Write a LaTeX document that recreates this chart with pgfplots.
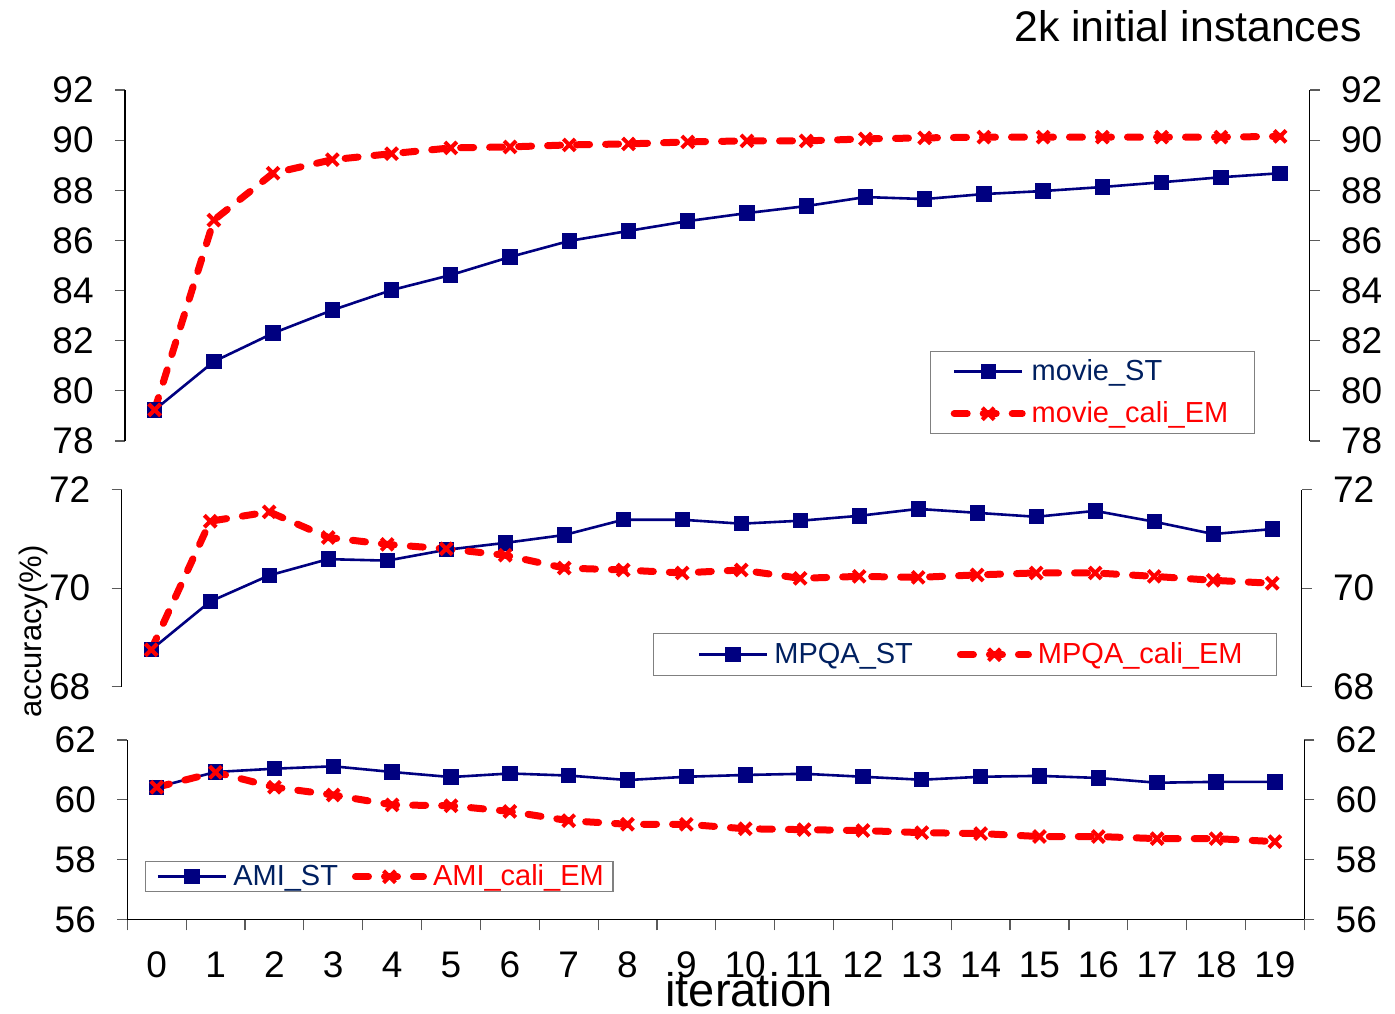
\documentclass[border=0pt]{standalone}
\usepackage{pgfplots}
\pgfplotsset{compat=1.18}
\usepackage{fontspec}
\setmainfont{Liberation Sans}
\definecolor{stblue}{RGB}{0,0,128}
\definecolor{sttext}{RGB}{0,32,96}
\definecolor{emred}{RGB}{255,0,0}
\definecolor{tickgray}{RGB}{90,90,90}

\pgfplotsset{
  panel/.style={
    scale only axis,
    anchor=south west,
    xmin=-0.5, xmax=19.5,
    tick align=outside,
    major tick length=5pt,
    minor tick length=5.5pt,
    every tick/.style={tickgray, line width=0.6pt},
    axis line style={black, line width=0.75pt},
    /pgf/number format/assume math mode=true,
    yticklabel style={font=\fontsize{18.5}{20}\selectfont, inner xsep=10.5pt},
    clip=false,
    legend cell align=left,
    legend style={draw=gray, line width=0.7pt, fill=white,
      font=\fontsize{14.5}{16}\selectfont,
      nodes={inner xsep=3pt, inner ysep=1pt}},
    legimg/.style={legend image code/.code={
      \path (-##1,0pt);
      \draw[mark repeat=2,mark phase=2,####1] plot coordinates {(0pt,0pt) (17pt,0pt) (34pt,0pt)};
    }},
    legimg=0pt,
  },
  leftpanel/.style={panel, hide x axis, axis y line*=left},
  rightpanel/.style={panel, hide x axis, axis y line*=right, yticklabel pos=right},
  bottompanel/.style={panel, axis y line*=left, axis x line*=bottom},
  stline/.style={stblue, line width=1.3pt, mark=square*, mark size=3.6pt,
    mark options={solid, fill=stblue, draw=stblue, line width=0.5pt}},
  emline/.style={emred, line width=3.5pt, dash pattern=on 6.5pt off 8pt, line cap=round,
    mark=x, mark size=4.2pt, mark options={solid, line width=2pt, line cap=butt}},
}

\begin{document}
\begin{tikzpicture}
\path[use as bounding box] (0,0) rectangle (697.5pt,506.5pt);

% ---------------- Panel 1: movie ----------------
\begin{axis}[leftpanel, at={(62.5pt,286pt)}, width=592.35pt, height=175.5pt,
  ymin=78, ymax=92, ytick={78,80,...,92},
  legend style={at={(0.6795,0.2564)}, anchor=north west, inner xsep=10pt, inner ysep=3pt,
    /tikz/row sep=7pt}]
\addplot[stline] coordinates {
(0,79.24) (1,81.17) (2,82.30) (3,83.22) (4,84.02) (5,84.62) (6,85.34) (7,85.98) (8,86.38) (9,86.77)
(10,87.09) (11,87.37) (12,87.73) (13,87.65) (14,87.85) (15,87.97) (16,88.13) (17,88.32) (18,88.52) (19,88.68)};
\addlegendentry{\textcolor{sttext}{movie\_ST}}
\addplot[emline] coordinates {
(0,79.24) (1,86.81) (2,88.68) (3,89.22) (4,89.46) (5,89.69) (6,89.73) (7,89.81) (8,89.85) (9,89.93)
(10,89.97) (11,89.97) (12,90.05) (13,90.09) (14,90.12) (15,90.12) (16,90.12) (17,90.12) (18,90.12) (19,90.15)};
\addlegendentry{\textcolor{emred}{movie\_cali\_EM}}
\end{axis}
\begin{axis}[rightpanel, at={(62.5pt,286pt)}, width=592.35pt, height=175.5pt,
  ymin=78, ymax=92, ytick={78,80,...,92}]
\end{axis}

% ---------------- Panel 2: MPQA ----------------
\begin{axis}[leftpanel, at={(60.85pt,163.15pt)}, width=590pt, height=98.5pt,
  ymin=68, ymax=72, ytick={68,70,72},
  legimg=8pt,
  legend columns=2,
  legend style={at={(0.4503,0.2726)}, anchor=north west, inner xsep=14pt, inner ysep=3.5pt,
    /tikz/every even column/.append style={column sep=11pt}}]
\addplot[stline] coordinates {
(0,68.75) (1,69.73) (2,70.26) (3,70.59) (4,70.56) (5,70.78) (6,70.92) (7,71.08) (8,71.39) (9,71.39)
(10,71.31) (11,71.37) (12,71.47) (13,71.61) (14,71.53) (15,71.45) (16,71.57) (17,71.35) (18,71.10) (19,71.20)};
\addlegendentry{\textcolor{sttext}{MPQA\_ST}}
\addplot[emline] coordinates {
(0,68.75) (1,71.36) (2,71.55) (3,71.03) (4,70.89) (5,70.80) (6,70.67) (7,70.41) (8,70.37) (9,70.31)
(10,70.37) (11,70.20) (12,70.24) (13,70.22) (14,70.27) (15,70.31) (16,70.31) (17,70.24) (18,70.16) (19,70.10)};
\addlegendentry{\textcolor{emred}{MPQA\_cali\_EM}}
\end{axis}
\begin{axis}[rightpanel, at={(60.85pt,163.15pt)}, width=590pt, height=98.5pt,
  ymin=68, ymax=72, ytick={68,70,72}]
\end{axis}

% ---------------- Panel 3: AMI ----------------
\begin{axis}[bottompanel, at={(63.65pt,46.85pt)}, width=588.5pt, height=89.65pt,
  ymin=56, ymax=62, ytick={56,58,60,62},
  xtick={0,...,19},
  minor xtick={-0.5,0.5,...,19.5},
  major x tick style={draw=none},
  xticklabel style={font=\fontsize{18.5}{20}\selectfont, inner ysep=11pt},
  legimg=4pt,
  legend columns=2,
  legend style={at={(0.015,0.325)}, anchor=north west, inner xsep=1.5pt, inner ysep=0.5pt,
    /tikz/every even column/.append style={column sep=0pt}}]
\addplot[stline] coordinates {
(0,60.42) (1,60.93) (2,61.04) (3,61.12) (4,60.93) (5,60.76) (6,60.88) (7,60.81) (8,60.66) (9,60.77)
(10,60.83) (11,60.87) (12,60.77) (13,60.67) (14,60.77) (15,60.80) (16,60.73) (17,60.57) (18,60.60) (19,60.60)};
\addlegendentry{\textcolor{sttext}{AMI\_ST}}
\addplot[emline] coordinates {
(0,60.42) (1,60.92) (2,60.42) (3,60.16) (4,59.83) (5,59.80) (6,59.61) (7,59.30) (8,59.18) (9,59.18)
(10,59.03) (11,59.00) (12,58.97) (13,58.90) (14,58.87) (15,58.77) (16,58.77) (17,58.70) (18,58.70) (19,58.60)};
\addlegendentry{\textcolor{emred}{AMI\_cali\_EM}}
\end{axis}
\begin{axis}[rightpanel, at={(63.65pt,46.85pt)}, width=588.5pt, height=89.65pt,
  ymin=56, ymax=62, ytick={56,58,60,62}]
\end{axis}

% ---------------- Titles and labels ----------------
\node[anchor=base east, inner sep=0pt, font=\fontsize{21.4}{24}\selectfont] at (681pt,485.65pt) {2k initial instances};
\node[rotate=90, anchor=base, inner sep=0pt, font=\fontsize{15.5}{18}\selectfont] at (20.85pt,190.75pt) {accuracy(\%)};
\node[anchor=base, inner sep=0pt, font=\fontsize{23.5}{26}\selectfont] at (374.5pt,3.5pt) {iteration};
\end{tikzpicture}
\end{document}
